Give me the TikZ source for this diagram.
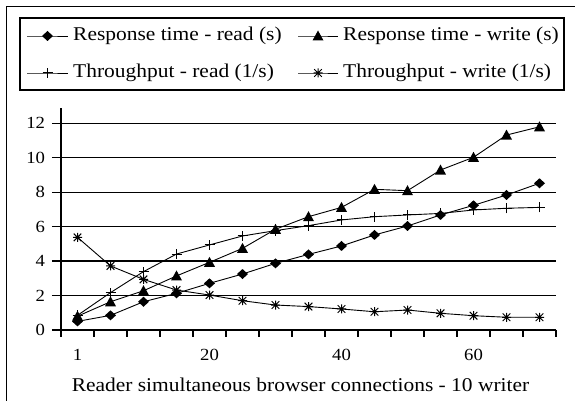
\documentclass[tikz,border=0pt]{standalone}
\usepackage{fontspec}
\setmainfont{Liberation Serif}[FakeStretch=1.1]
\usetikzlibrary{plotmarks}

% filled diamond, filled triangle, plus and star markers
\pgfdeclareplotmark{xdiamond}{%
  \pgfpathmoveto{\pgfqpoint{0pt}{5pt}}%
  \pgfpathlineto{\pgfqpoint{5.5pt}{0pt}}%
  \pgfpathlineto{\pgfqpoint{0pt}{-5pt}}%
  \pgfpathlineto{\pgfqpoint{-5.5pt}{0pt}}%
  \pgfpathclose\pgfusepathqfill}
\pgfdeclareplotmark{xtriangle}{%
  \pgfpathmoveto{\pgfqpoint{0pt}{5.5pt}}%
  \pgfpathlineto{\pgfqpoint{5.5pt}{-4.5pt}}%
  \pgfpathlineto{\pgfqpoint{-5.5pt}{-4.5pt}}%
  \pgfpathclose\pgfusepathqfill}
\pgfdeclareplotmark{xplus}{%
  \pgfsetlinewidth{1pt}%
  \pgfpathmoveto{\pgfqpoint{-5pt}{0pt}}\pgfpathlineto{\pgfqpoint{5pt}{0pt}}%
  \pgfpathmoveto{\pgfqpoint{0pt}{-5pt}}\pgfpathlineto{\pgfqpoint{0pt}{5pt}}%
  \pgfusepathqstroke}
\pgfdeclareplotmark{xstar}{%
  \pgfsetlinewidth{1pt}%
  \pgfpathmoveto{\pgfqpoint{-3.8pt}{-3.8pt}}\pgfpathlineto{\pgfqpoint{3.8pt}{3.8pt}}%
  \pgfpathmoveto{\pgfqpoint{-3.8pt}{3.8pt}}\pgfpathlineto{\pgfqpoint{3.8pt}{-3.8pt}}%
  \pgfpathmoveto{\pgfqpoint{0pt}{-4.5pt}}\pgfpathlineto{\pgfqpoint{0pt}{4.5pt}}%
  \pgfpathmoveto{\pgfqpoint{-4.5pt}{0pt}}\pgfpathlineto{\pgfqpoint{4.5pt}{0pt}}%
  \pgfusepathqstroke}

\begin{document}
\begin{tikzpicture}[x=1pt,y=1pt,
  frameline/.style={line width=1.5pt},
  gridline/.style={line width=1.4pt},
  axisline/.style={line width=1.4pt},
  series/.style={line width=0.9pt},
  legsample/.style={series,mark indices={2}},
  legtext/.style={anchor=west,inner sep=0pt,font=\fontsize{19.5}{20}\selectfont},
  ticklabel/.style={inner sep=0pt,font=\fontsize{17}{18}\selectfont},
  titlelabel/.style={inner sep=0pt,font=\fontsize{19.5}{20}\selectfont}]
\useasboundingbox (0,0) rectangle (575,401);
\fill[white] (0,0) rectangle (575,401);

% outer chart frame (left and top edges)
\draw[frameline] (6.5,0) -- (6.5,394.5) -- (575,394.5);

% legend
\draw[line width=1.3pt] (20,311) rectangle (564,383);
\draw[legsample] plot[mark=xdiamond] coordinates {(27,365) (47.5,365) (68,365)};
\draw[legsample] plot[mark=xtriangle] coordinates {(298,365) (318,365) (338,365)};
\draw[legsample] plot[mark=xplus] coordinates {(27,328) (47.5,328) (68,328)};
\draw[legsample] plot[mark=xstar] coordinates {(298,328) (318,328) (338,328)};
\node[legtext] (lrr) at (73,365) {Response time - read (s)};
\node[legtext] (lrw) at (343,365) {Response time - write (s)};
\node[legtext] (ltr) at (73,328) {Throughput - read (1/s)};
\node[legtext] (ltw) at (343,328) {Throughput - write (1/s)};

% plot area: categories 0..14, values 0..13
\begin{scope}[shift={(77.5,71)},x=33pt,y=17.22pt]
  \foreach \v in {2,4,...,12}
    \draw[gridline] (-0.773,\v) -- (14.5,\v);
  \foreach \v in {0,2,...,12}
    \node[ticklabel,anchor=east] (yl\v) at (-0.98,\v) {\v};
  \draw[axisline] (-0.773,0) -- (14.5,0);
  \draw[axisline] (-0.5,0) -- (-0.5,12.9);
  \foreach \k in {0,...,15}
    \draw[axisline] (\k-0.5,0) -- (\k-0.5,-0.41);
  \node[ticklabel] (xl1)  at (0,-1.44) {1};
  \node[ticklabel] (xl20) at (4,-1.44) {20};
  \node[ticklabel] (xl40) at (8,-1.44) {40};
  \node[ticklabel] (xl60) at (12,-1.44) {60};

  % throughput - write
  \draw[series] plot[mark=xstar] coordinates {(0,5.38) (1,3.72) (2,2.94) (3,2.32) (4,2.03) (5,1.70) (6,1.45) (7,1.36) (8,1.22) (9,1.06) (10,1.16) (11,0.97) (12,0.83) (13,0.74) (14,0.74)};
  % throughput - read
  \draw[series] plot[mark=xplus] coordinates {(0,0.85) (1,2.17) (2,3.39) (3,4.41) (4,4.94) (5,5.46) (6,5.77) (7,6.06) (8,6.39) (9,6.58) (10,6.68) (11,6.77) (12,6.97) (13,7.07) (14,7.12)};
  % response time - write
  \draw[series] plot[mark=xtriangle] coordinates {(0,0.8) (1,1.64) (2,2.28) (3,3.14) (4,3.93) (5,4.74) (6,5.85) (7,6.58) (8,7.12) (9,8.17) (10,8.09) (11,9.29) (12,10.03) (13,11.32) (14,11.8)};
  % response time - read
  \draw[series] plot[mark=xdiamond] coordinates {(0,0.5) (1,0.85) (2,1.64) (3,2.13) (4,2.71) (5,3.25) (6,3.87) (7,4.39) (8,4.88) (9,5.52) (10,6.04) (11,6.68) (12,7.24) (13,7.84) (14,8.52)};
\end{scope}

\node[titlelabel] (xtitle) at (300.5,16) {Reader simultaneous browser connections - 10 writer};
\end{tikzpicture}
\end{document}
